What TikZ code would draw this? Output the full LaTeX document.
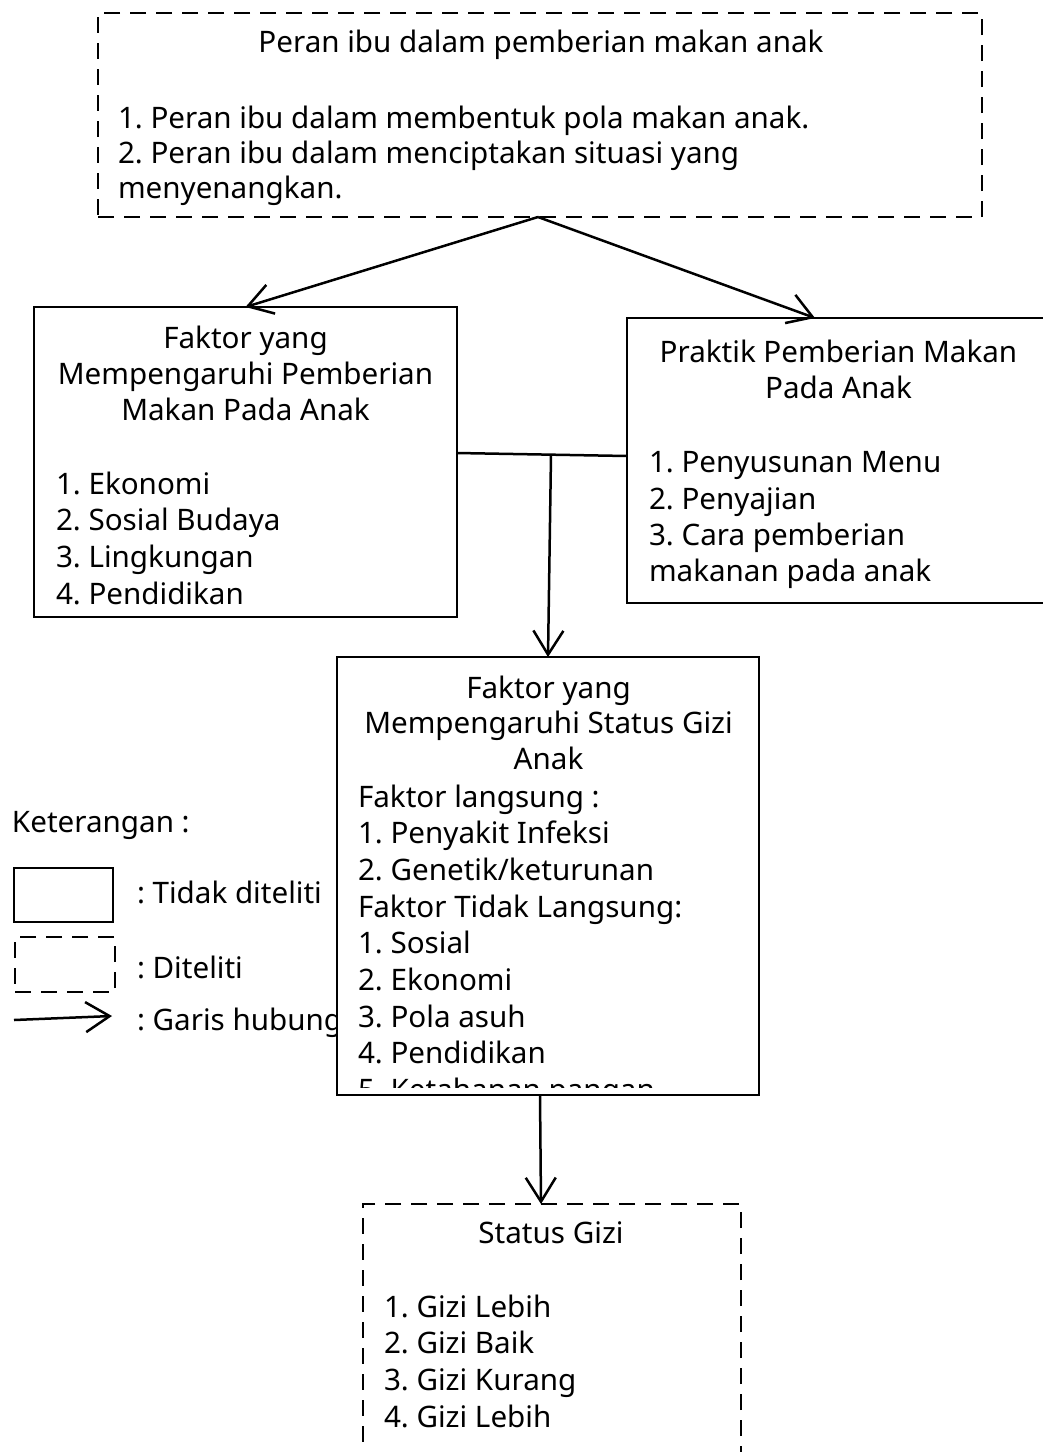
\documentclass[tikz,border=0pt]{standalone}
\usepackage{fontspec}
\setmainfont{Noto Sans}
\usetikzlibrary{arrows.meta}
\frenchspacing
\begin{document}
\begin{tikzpicture}[x=1pt,y=-1pt,
  every node/.style={inner sep=0pt, outer sep=0pt},
  solidbox/.style={draw, line width=2.5pt, fill=white},
  dashbox/.style={draw, line width=2.5pt, dash pattern=on 16pt off 10pt, fill=white},
  tx/.style={font=\fontsize{29.6}{36.5}\selectfont, anchor=base west},
  tc/.style={font=\fontsize{29.6}{36.5}\selectfont, anchor=base},
  conn/.style={line width=2.5pt, -{Straight Barb[length=24pt,width=30pt]}}]
\clip (0,0) rectangle (1043,1452);
\fill[white] (0,0) rectangle (1043,1452);

% legend
\node[tx] (ket) at (12,832) {Keterangan :};
\node[solidbox, minimum width=99pt, minimum height=54pt] (lgs) at (63.5,895) {};
\node[dashbox, minimum width=100pt, minimum height=55pt] (lgd) at (65,964.5) {};
\coordinate (la) at (14,1020);
\coordinate (lb) at (112,1016);
\draw[conn] (la) -- (lb);
\node[tx] (lt1) at (137,903) {: Tidak diteliti};
\node[tx] (lt2) at (137,978) {: Diteliti};
\node[tx] (lt3) at (137,1030) {: Garis hubung};

% boxes
\node[dashbox, minimum width=884pt, minimum height=204pt] (top) at (540,115) {};
\node[solidbox, minimum width=423pt, minimum height=310pt] (left) at (245.5,462) {};
\node[solidbox, minimum width=453pt, minimum height=285pt] (right) at (853.5,460.5) {};
\node[solidbox, minimum width=422pt, minimum height=438pt] (mid) at (548,876) {};
\node[dashbox, minimum width=378pt, minimum height=296pt] (bot) at (552,1352) {};

% top box text
\node[tc] (t0) at (541,52) {Peran ibu dalam pemberian makan anak};
\node[tx] (t1) at (118,128) {1. Peran ibu dalam membentuk pola makan anak.};
\node[tx] (t2) at (118,163) {2. Peran ibu dalam menciptakan situasi yang};
\node[tx] (t3) at (118,198) {menyenangkan.};

% left box text
\node[tc] (a1) at (245.5,348) {Faktor yang};
\node[tc] (a2) at (245.5,384) {Mempengaruhi Pemberian};
\node[tc] (a3) at (245.5,420) {Makan Pada Anak};
\foreach \s [count=\i] in {1. Ekonomi, 2. Sosial Budaya, 3. Lingkungan, 4. Pendidikan}
  \node[tx] (ai\i) at (56,{457.2+36.8*\i}) {\s};

% right box text
\node[tc] (b1) at (838.5,362) {Praktik Pemberian Makan};
\node[tc] (b2) at (838.5,398) {Pada Anak};
\foreach \s [count=\i] in {1. Penyusunan Menu, 2. Penyajian, 3. Cara pemberian, makanan pada anak}
  \node[tx] (bi\i) at (649,{436.5+36.3*\i}) {\s};

% middle box text
\node[tc] (c1) at (548.5,698) {Faktor yang};
\node[tc] (c2) at (548.5,733) {Mempengaruhi Status Gizi};
\node[tc] (c3) at (548.5,769) {Anak};
\begin{scope}
\clip (339,659) rectangle (757,1087);
\foreach \s [count=\i] in {Faktor langsung :, 1. Penyakit Infeksi, 2. Genetik/keturunan, Faktor Tidak Langsung:, 1. Sosial, 2. Ekonomi, 3. Pola asuh, 4. Pendidikan, 5. Ketahanan pangan}
  \node[tx] (ci\i) at (358,{770.3+36.7*\i}) {\s};
\end{scope}

% bottom box text
\node[tc] (d0) at (551,1243) {Status Gizi};
\foreach \s [count=\i] in {1. Gizi Lebih, 2. Gizi Baik, 3. Gizi Kurang, 4. Gizi Lebih}
  \node[tx] (di\i) at (384,{1280.3+36.7*\i}) {\s};

% connectors
\coordinate (apex) at (538,217);
\coordinate (rtop) at (815,318);
\draw[conn] (apex) -- (left.north);
\draw[conn] (apex) -- (rtop);
\coordinate (hl) at (457,453);
\coordinate (hr) at (627,456);
\coordinate (hm) at (551,455);
\draw[line width=2.5pt] (hl) -- (hr);
\draw[conn] (hm) -- (mid.north);
\coordinate (mb) at (540,1095);
\coordinate (bt) at (541,1204);
\draw[conn] (mb) -- (bt);
\end{tikzpicture}
\end{document}
